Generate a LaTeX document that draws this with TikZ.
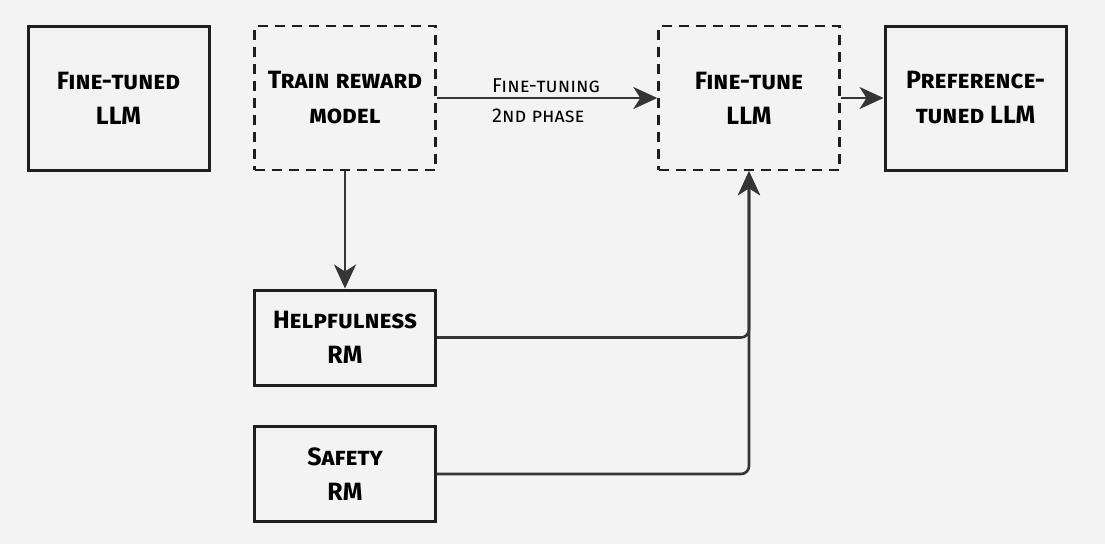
\documentclass[tikz,border=0pt]{standalone}
\usepackage{fontspec}
\setmainfont{Fira Sans}
\usetikzlibrary{arrows.meta}
\definecolor{ink}{HTML}{1E1E1E}
\definecolor{paper}{HTML}{F3F3F3}

\begin{document}
\begin{tikzpicture}[x=1pt,y=-1pt,
    box/.style={draw=ink,line width=3pt,minimum width=181pt,minimum height=144pt,
      align=center,font=\fontsize{25}{35}\selectfont\bfseries\scshape},
    stage/.style={box,line width=2.4pt,dash pattern=on 10pt off 7pt},
    rm/.style={box,minimum height=95pt},
    note/.style={align=left,inner sep=0pt,font=\fontsize{20}{30}\selectfont\scshape},
    conn/.style={draw=ink!90,line width=2.6pt,-{Stealth[length=24pt,width=22pt,inset=7pt]}}]
  \fill[paper] (0,0) rectangle (1105,544);

  \node[box] (tuned) at (118.5,98) {Fine-tuned\\LLM};
  \node[stage] (train) at (345,98) {Train reward\\model};
  \node[stage] (tune) at (749,98) {Fine-tune\\LLM};
  \node[box] (pref) at (975.5,98) {Preference-\\tuned LLM};
  \node[rm] (help) at (345,337.5) {Helpfulness\\RM};
  \node[rm] (safe) at (345,474) {Safety\\RM};

  \draw[conn] (train) -- (tune);
  \node[note,anchor=west] (phase) at (492,101) {Fine-tuning\\2nd phase};
  \draw[conn] (tune) -- (pref);
  \draw[conn] (train) -- (help);
  \draw[conn,rounded corners=8pt] (help.east) -| (tune.south);
  \draw[conn,rounded corners=8pt] (safe.east) -| (tune.south);
\end{tikzpicture}
\end{document}
